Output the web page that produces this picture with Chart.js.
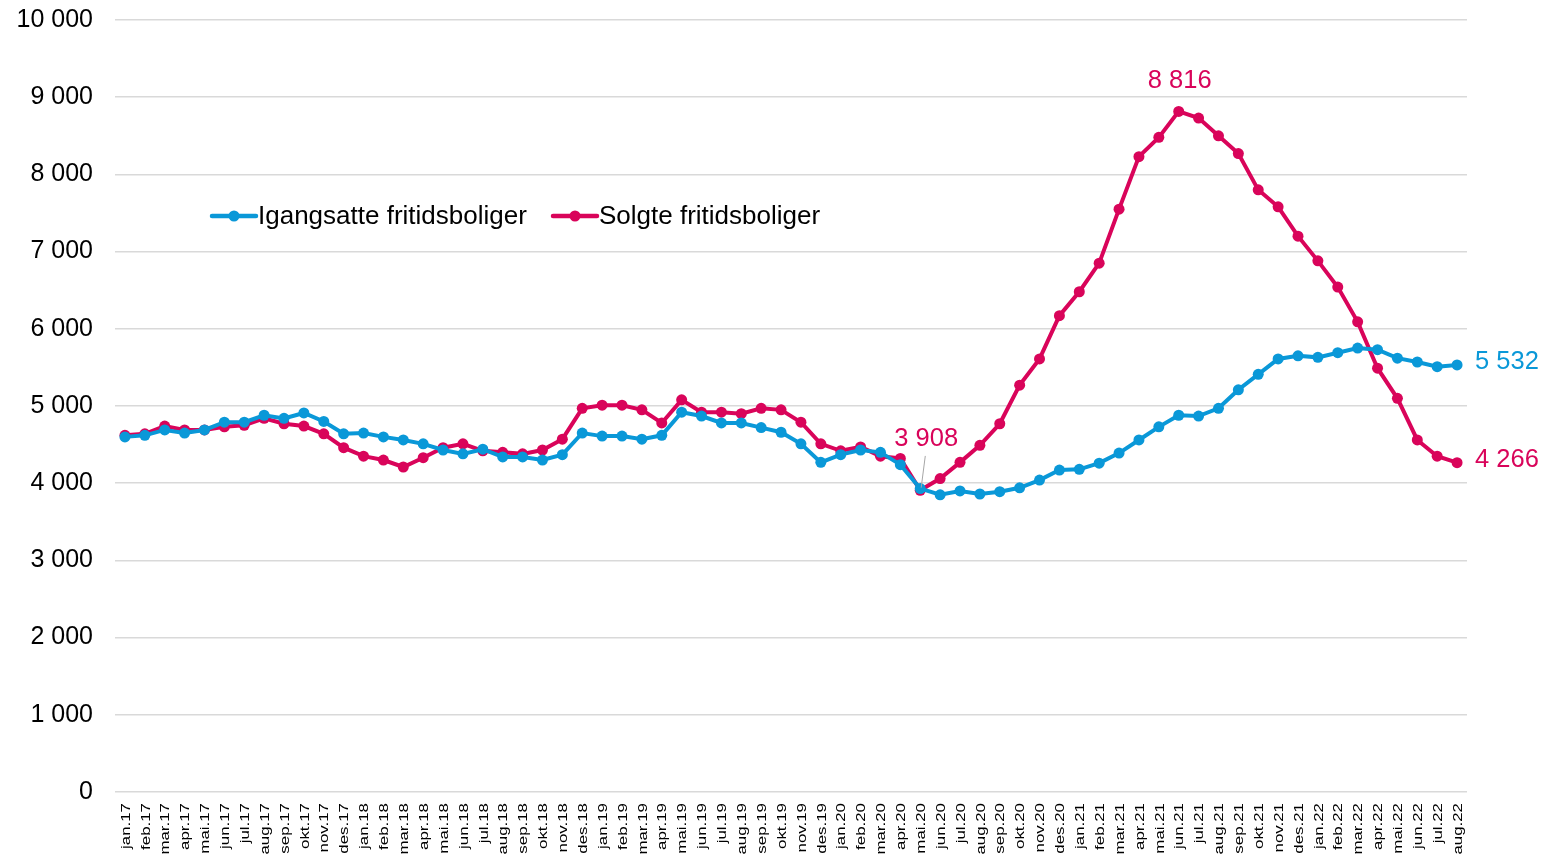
<!DOCTYPE html>
<html><head><meta charset="utf-8">
<script src="https://cdn.jsdelivr.net/npm/chart.js@4.4.1/dist/chart.umd.min.js"></script>
<style>html,body{margin:0;padding:0;background:#fff;}#wrap{width:1542px;height:855px;position:relative;}</style>
</head><body><div id="wrap"><canvas id="c" width="1542" height="855"></canvas></div>
<script>
const months = ['jan','feb','mar','apr','mai','jun','jul','aug','sep','okt','nov','des'];
const categories = [];
for (let y = 17; y <= 22; y++) for (let m = 0; m < 12; m++) { if (y === 22 && m > 7) break; categories.push(months[m] + '.' + y); }

const seriesNames = ['Igangsatte fritidsboliger', 'Solgte fritidsboliger'];
const igangsatte = [4600,4620,4690,4650,4690,4790,4790,4880,4840,4910,4800,4640,
  4650,4600,4560,4510,4430,4380,4440,4340,4340,4300,4370,4650,
  4610,4610,4570,4620,4920,4870,4780,4780,4720,4660,4510,4270,
  4370,4430,4400,4240,3930,3850,3900,3860,3890,3940,4040,4170,
  4180,4260,4390,4560,4730,4880,4870,4970,5210,5410,5610,5650,
  5630,5690,5750,5730,5620,5570,5510,5532];
const solgte = [4620,4640,4740,4690,4690,4730,4750,4840,4770,4740,4640,4460,
  4350,4300,4210,4330,4460,4510,4420,4400,4380,4430,4570,4970,
  5010,5010,4950,4780,5080,4920,4920,4900,4970,4950,4790,4510,
  4420,4470,4350,4320,3908,4060,4270,4490,4770,5270,5610,6170,
  6480,6850,7550,8230,8480,8816,8730,8500,8270,7800,7580,7200,
  6880,6540,6090,5490,5100,4560,4350,4266];
const yTicks = [0,1000,2000,3000,4000,5000,6000,7000,8000,9000,10000];
const colors = ['#0a98d8', '#d9045a'];
// value labels: [datasetIndex, pointIndex, placement]
const valueLabels = [[1, 40, 'leader'], [1, 53, 'above'], [0, 67, 'right'], [1, 67, 'right']];

const fmt = v => String(Math.round(v)).replace(/\B(?=(\d{3})+(?!\d))/g, ' ');
const FONT = '"Liberation Sans", Arial, sans-serif';

const overlay = {
  id: 'overlay',
  afterDraw(chart) {
    const ctx = chart.ctx;
    // x category labels (rotated, elongated like the reference)
    const xs = chart.scales.x;
    ctx.save();
    ctx.fillStyle = '#000';
    ctx.font = '13.5px ' + FONT;
    ctx.textAlign = 'right';
    ctx.textBaseline = 'middle';
    chart.data.labels.forEach((lab, i) => {
      const x = xs.getPixelForTick(i);
      ctx.save();
      ctx.translate(x + 1, 803);
      ctx.rotate(-Math.PI / 2);
      ctx.scale(1.25, 1);
      ctx.fillText(lab, 0, 0);
      ctx.restore();
    });
    ctx.restore();
    // y tick labels
    const ys = chart.scales.y;
    ctx.save();
    ctx.fillStyle = '#000';
    ctx.font = '25px ' + FONT;
    ctx.textAlign = 'right';
    ctx.textBaseline = 'middle';
    yTicks.forEach(v => ctx.fillText(fmt(v), ys.right - 22, ys.getPixelForValue(v)));
    ctx.restore();
  },
  afterDatasetsDraw(chart) {
    const ctx = chart.ctx;
    ctx.save();
    // legend
    ctx.font = '26px ' + FONT;
    ctx.textBaseline = 'middle';
    ctx.textAlign = 'left';
    const legendX = [212, 553]; const ly = 216;
    chart.data.datasets.forEach((ds, i) => {
      const lx = legendX[i];
      ctx.strokeStyle = ds.borderColor; ctx.lineWidth = 4.5; ctx.lineCap = 'round';
      ctx.beginPath(); ctx.moveTo(lx, ly); ctx.lineTo(lx + 44, ly); ctx.stroke();
      ctx.fillStyle = ds.borderColor;
      ctx.beginPath(); ctx.arc(lx + 22, ly, 5.5, 0, Math.PI * 2); ctx.fill();
      ctx.fillStyle = '#000';
      ctx.fillText(ds.label, lx + 46, ly + 1);
    });
    // value labels
    valueLabels.forEach(([di, pi, pos]) => {
      const pt = chart.getDatasetMeta(di).data[pi];
      const v = chart.data.datasets[di].data[pi];
      ctx.fillStyle = colors[di];
      ctx.font = '25.5px ' + FONT;
      ctx.textBaseline = 'middle';
      if (pos === 'right') {
        ctx.textAlign = 'left';
        ctx.fillText(fmt(v), pt.x + 18, pt.y - 3);
      } else if (pos === 'leader') {
        ctx.textAlign = 'center';
        ctx.fillText(fmt(v), pt.x + 6, pt.y - 51);
        ctx.strokeStyle = '#a6a6a6'; ctx.lineWidth = 1;
        ctx.beginPath(); ctx.moveTo(pt.x + 5, pt.y - 34); ctx.lineTo(pt.x + 1, pt.y - 3); ctx.stroke();
      } else {
        ctx.textAlign = 'center';
        ctx.fillText(fmt(v), pt.x + 1, pt.y - 30);
      }
    });
    ctx.restore();
  }
};

new Chart(document.getElementById('c'), {
  type: 'line',
  data: {
    labels: categories,
    datasets: [
      { label: seriesNames[0], data: igangsatte, borderColor: colors[0], backgroundColor: colors[0],
        borderWidth: 4, pointRadius: 5.5, pointBorderWidth: 0, pointBackgroundColor: colors[0], tension: 0 },
      { label: seriesNames[1], data: solgte, borderColor: colors[1], backgroundColor: colors[1],
        borderWidth: 4, pointRadius: 5.5, pointBorderWidth: 0, pointBackgroundColor: colors[1], tension: 0 }
    ]
  },
  options: {
    responsive: false,
    animation: false,
    devicePixelRatio: 1,
    layout: { padding: { top: 20, right: 75, left: 0, bottom: 0 } },
    plugins: { legend: { display: false }, tooltip: { enabled: false } },
    scales: {
      x: {
        offset: true,
        grid: { display: false, drawTicks: false },
        border: { display: false },
        ticks: { display: false, autoSkip: false },
        afterFit(s) { s.height = 63; }
      },
      y: {
        min: 0, max: 10000,
        afterBuildTicks(s) { s.ticks = yTicks.map(v => ({ value: v })); },
        grid: { color: '#d9d9d9', lineWidth: 1.5, drawTicks: false },
        border: { display: false },
        ticks: { display: false },
        afterFit(s) { s.width = 115; }
      }
    }
  },
  plugins: [overlay]
});
</script></body></html>
